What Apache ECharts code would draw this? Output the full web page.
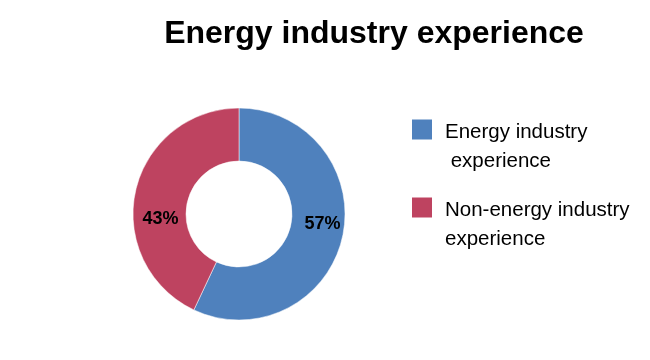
<!DOCTYPE html>
<html><head><meta charset="utf-8">
<script src="https://cdn.jsdelivr.net/npm/echarts@6/dist/echarts.min.js"></script>
<style>html,body{margin:0;padding:0;background:#fff}#c{width:650px;height:360px}</style>
</head><body><div id="c"></div>
<script>
const titleText = 'Energy industry experience';
const categories = ['Energy industry\n experience', 'Non-energy industry\nexperience'];
const values = [57, 43];
const colors = ['#4F81BD', '#BE4360'];
const labelOffsets = [[3, -8], [2, 23]];

const chart = echarts.init(document.getElementById('c'));
chart.setOption({
  animation: false,
  backgroundColor: '#fff',
  title: {
    text: titleText, left: 369, top: 13, textAlign: 'center',
    textStyle: {fontFamily: 'Liberation Sans', fontWeight: 'bold', fontSize: 32, color: '#000'}
  },
  legend: {
    orient: 'vertical', left: 405, top: 78.5, itemWidth: 22, itemHeight: 22, itemGap: -10,
    icon: 'rect',
    formatter: name => '{s| }\n' + name.split('\n').map(l => '{a|' + l + '}').join('\n'),
    textStyle: {
      fontFamily: 'Liberation Sans', fontSize: 20.5, color: '#000',
      rich: {
        s: {fontSize: 20.5, lineHeight: 34, height: 34},
        a: {fontFamily: 'Liberation Sans', fontSize: 20.5, color: '#000', lineHeight: 29, padding: [0, 0, 0, 7]}
      }
    },
    data: categories
  },
  series: [{
    type: 'pie', center: [239, 214], radius: [53, 106], startAngle: 90, clockwise: true,
    label: {position: 'inside', formatter: '{d}%', fontFamily: 'Liberation Sans', fontWeight: 'bold', fontSize: 18, color: '#000'},
    labelLine: {show: false},
    itemStyle: {borderWidth: 0.5, borderColor: '#fff'},
    emphasis: {disabled: true},
    data: categories.map((c, i) => ({name: c, value: values[i], itemStyle: {color: colors[i]}, label: {offset: labelOffsets[i]}}))
  }]
});
</script></body></html>
